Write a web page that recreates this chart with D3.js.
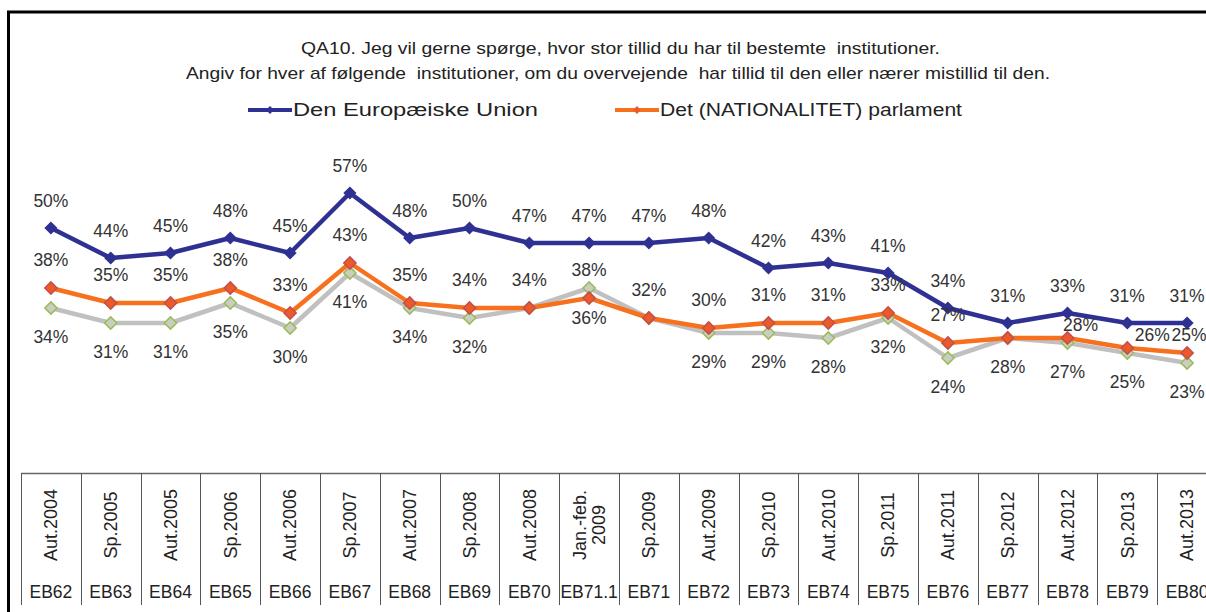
<!DOCTYPE html>
<html>
<head>
<meta charset="utf-8">
<script src="https://cdn.jsdelivr.net/npm/d3@7"></script>
<style>
  html, body { margin: 0; padding: 0; background: #fff; }
  svg { display: block; font-family: "Liberation Sans", Arial, sans-serif; }
</style>
</head>
<body>
<div id="chart"></div>
<script>
// data
const periods = ["Aut.2004", "Sp.2005", "Aut.2005", "Sp.2006", "Aut.2006", "Sp.2007", "Aut.2007", "Sp.2008", "Aut.2008",
  "Jan.-feb.|2009", "Sp.2009", "Aut.2009", "Sp.2010", "Aut.2010", "Sp.2011", "Aut.2011", "Sp.2012", "Aut.2012", "Sp.2013", "Aut.2013"];
const waves = ["EB62", "EB63", "EB64", "EB65", "EB66", "EB67", "EB68", "EB69", "EB70", "EB71.1",
  "EB71", "EB72", "EB73", "EB74", "EB75", "EB76", "EB77", "EB78", "EB79", "EB80"];
const euValues = [50, 44, 45, 48, 45, 57, 48, 50, 47, 47, 47, 48, 42, 43, 41, 34, 31, 33, 31, 31];
const parlValues = [38, 35, 35, 38, 33, 43, 35, 34, 34, 36, 32, 30, 31, 31, 33, 27, 28, 28, 26, 25];
const avgValues = [34, 31, 31, 35, 30, 41, 34, 32, 34, 38, 32, 29, 29, 28, 32, 24, 28, 27, 25, 23];

const titleLines = [
  "QA10. Jeg vil gerne spørge, hvor stor tillid du har til bestemte  institutioner.",
  "Angiv for hver af følgende  institutioner, om du overvejende  har tillid til den eller nærer mistillid til den."
];

const width = 1206, height = 612;

const series = [
  {key: "eu", name: "Den Europæiske Union", values: euValues, line: "#2e3192", fill: "#2e3192", stroke: "#2e3192", labelDy: -27},
  {key: "parl", name: "Det (NATIONALITET) parlament", values: parlValues, line: "#f7701e", fill: "#ec5a2a", stroke: "#c0504d", labelDy: -28},
  {key: "avg", name: null, values: avgValues, line: "#c0c0c0", fill: "#c9cfc0", stroke: "#9bbb59", labelDy: 29}
];

// hand placed labels, like in the original
const labelTweaks = {
  "parl|EB71.1": {dy: 20},
  "avg|EB71.1": {dy: -18},
  "avg|EB70": {hide: true},
  "avg|EB71": {hide: true},
  "parl|EB77": {hide: true},
  "parl|EB78": {dx: 13, dy: -13},
  "parl|EB79": {dx: 25, dy: -13},
  "parl|EB80": {dx: 2, dy: -18}
};

const svg = d3.select("#chart").append("svg")
  .attr("width", width)
  .attr("height", height);

const x = d3.scaleBand()
  .domain(waves)
  .range([21, 21 + 20 * 59.8]);

const y = d3.scaleLinear()
  .domain([0, 60])
  .range([478, 178]);

const cx = d => x(d) + x.bandwidth() / 2;

// outer frame
svg.append("path")
  .attr("d", `M8.5,${height + 5}V12H${width + 5}`)
  .attr("fill", "none")
  .attr("stroke", "#000")
  .attr("stroke-width", 3);

// title (the source text is drawn wide, so fix its width)
const titleSpans = [{x0: 301, w: 639}, {x0: 186, w: 864}];
svg.append("g")
  .selectAll("text")
  .data(titleLines)
  .join("text")
  .attr("x", (d, i) => titleSpans[i].x0)
  .attr("y", (d, i) => 48 + i * 25)
  .attr("dy", "0.35em")
  .attr("textLength", (d, i) => titleSpans[i].w)
  .attr("lengthAdjust", "spacingAndGlyphs")
  .attr("font-size", 17)
  .attr("fill", "#222")
  .style("white-space", "pre")
  .text(d => d);

// legend
const diamond = d3.symbol().type(d3.symbolDiamond2);
const legendItems = [{s: series[0], x0: 248, w: 245}, {s: series[1], x0: 615, w: 302}];
const legend = svg.append("g")
  .selectAll("g")
  .data(legendItems)
  .join("g")
  .attr("transform", d => `translate(${d.x0},110)`);

legend.append("line")
  .attr("x1", 0).attr("x2", 44)
  .attr("stroke", d => d.s.line)
  .attr("stroke-width", 4);
legend.append("path")
  .attr("transform", "translate(22,0)")
  .attr("d", diamond.size(40)())
  .attr("fill", d => d.s.fill);
legend.append("text")
  .attr("x", 45)
  .attr("dy", "0.35em")
  .attr("font-size", 17.5)
  .attr("textLength", d => d.w)
  .attr("lengthAdjust", "spacingAndGlyphs")
  .attr("fill", "#222")
  .text(d => d.s.name);

// lines, drawn bottom series first
const line = d3.line()
  .x((d, i) => cx(waves[i]))
  .y(d => y(d));

const drawOrder = [series[2], series[1], series[0]];

svg.append("g")
  .selectAll("path")
  .data(drawOrder)
  .join("path")
  .attr("d", d => line(d.values))
  .attr("fill", "none")
  .attr("stroke", d => d.line)
  .attr("stroke-width", 4.5)
  .attr("stroke-linejoin", "round");

svg.append("g")
  .selectAll("g")
  .data(drawOrder)
  .join("g")
  .each(function(s) {
    d3.select(this).selectAll("path")
      .data(s.values)
      .join("path")
      .attr("transform", (v, i) => `translate(${cx(waves[i])},${y(v)})`)
      .attr("d", diamond.size(s.key === "eu" ? 110 : 95)())
      .attr("fill", s.fill)
      .attr("stroke", s.stroke)
      .attr("stroke-width", s.key === "eu" ? 0 : 1.5);
  });

// data labels
const labels = [];
series.forEach(s => {
  s.values.forEach((v, i) => {
    const t = labelTweaks[`${s.key}|${waves[i]}`] || {};
    if (t.hide) return;
    labels.push({
      text: v + "%",
      x: cx(waves[i]) + (t.dx || 0),
      y: y(v) + (t.dy !== undefined ? t.dy : s.labelDy)
    });
  });
});

svg.append("g")
  .selectAll("text")
  .data(labels)
  .join("text")
  .attr("x", d => d.x)
  .attr("y", d => d.y)
  .attr("dy", "0.35em")
  .attr("text-anchor", "middle")
  .attr("font-size", 17.5)
  .attr("fill", "#333")
  .text(d => d.text);

// table under the chart
const table = svg.append("g");
const tableTop = 473;

table.append("line")
  .attr("x1", 21).attr("x2", width + 5)
  .attr("y1", tableTop + 0.5).attr("y2", tableTop + 0.5)
  .attr("stroke", "#666")
  .attr("stroke-width", 1.5);

table.selectAll("line.sep")
  .data(waves)
  .join("line")
  .attr("class", "sep")
  .attr("x1", d => Math.round(x(d)) + 0.5)
  .attr("x2", d => Math.round(x(d)) + 0.5)
  .attr("y1", tableTop)
  .attr("y2", 605)
  .attr("stroke", "#555")
  .attr("stroke-width", 1);

// period labels, rotated
table.selectAll("g.period")
  .data(periods)
  .join("g")
  .attr("class", "period")
  .attr("transform", (d, i) => `translate(${cx(waves[i])},525) rotate(-90)`)
  .each(function(d) {
    const parts = d.split("|");
    d3.select(this).selectAll("text")
      .data(parts)
      .join("text")
      .attr("y", (p, j) => (j - (parts.length - 1) / 2) * 19)
      .attr("dy", "0.35em")
      .attr("text-anchor", "middle")
      .attr("font-size", 18)
      .attr("fill", "#222")
      .text(p => p);
  });

table.selectAll("text.wave")
  .data(waves)
  .join("text")
  .attr("class", "wave")
  .attr("x", d => cx(d))
  .attr("y", 592)
  .attr("dy", "0.35em")
  .attr("text-anchor", "middle")
  .attr("font-size", 17.5)
  .attr("fill", "#222")
  .text(d => d);
</script>
</body>
</html>
